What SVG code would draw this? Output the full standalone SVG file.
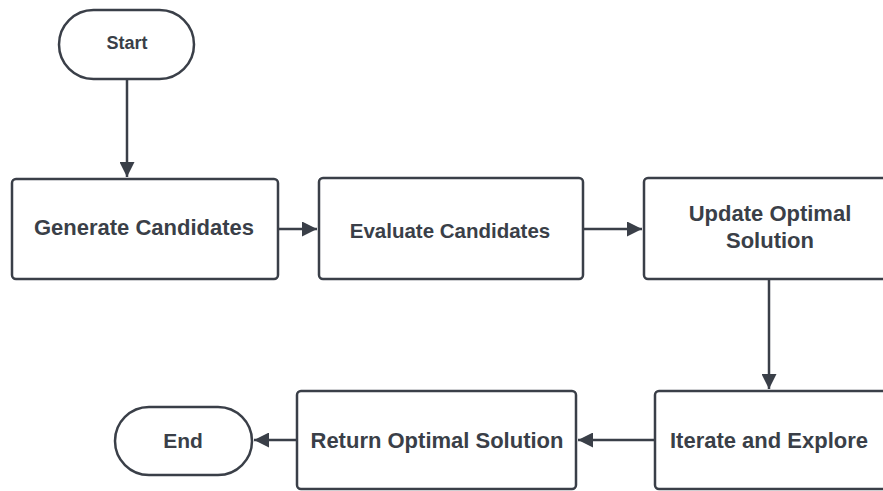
<svg xmlns="http://www.w3.org/2000/svg" width="883" height="491" viewBox="0 0 883 491">
<style>
.box{fill:#fff;stroke:#3a3f48;stroke-width:2.5}
.t{font-family:"Liberation Sans",Arial,sans-serif;font-weight:bold;fill:#3a3f48;text-anchor:middle;dominant-baseline:central}
.c{fill:none;stroke:#3a3f48;stroke-width:2.5}
</style>
<defs>
<marker id="ah" viewBox="0 0 10 10" refX="10" refY="5" markerWidth="6" markerHeight="6" markerUnits="strokeWidth" orient="auto">
<path d="M0,0 L10,5 L0,10 z" fill="#3a3f48"/>
</marker>
</defs>
<rect width="883" height="491" fill="#fff"/>
<g id="connectors">
<line class="c" x1="127" y1="79" x2="127" y2="177" marker-end="url(#ah)"/>
<line class="c" x1="278" y1="229" x2="317" y2="229" marker-end="url(#ah)"/>
<line class="c" x1="583" y1="229" x2="642" y2="229" marker-end="url(#ah)"/>
<line class="c" x1="769" y1="279" x2="769" y2="389" marker-end="url(#ah)"/>
<line class="c" x1="655" y1="440" x2="578" y2="440" marker-end="url(#ah)"/>
<line class="c" x1="297" y1="440" x2="254" y2="440" marker-end="url(#ah)"/>
</g>
<g id="start">
<rect class="box" x="59" y="10" width="135" height="69" rx="34.5"/>
<text class="t" x="127" y="43" font-size="18">Start</text>
</g>
<g id="generate">
<rect class="box" x="12" y="179" width="266" height="100" rx="4"/>
<text class="t" x="144" y="227" font-size="22">Generate Candidates</text>
</g>
<g id="evaluate">
<rect class="box" x="319" y="178" width="264" height="101" rx="4"/>
<text class="t" x="450" y="230" font-size="20.5">Evaluate Candidates</text>
</g>
<g id="update">
<rect class="box" x="644" y="178" width="252" height="101" rx="4"/>
<text class="t" x="770" y="213" font-size="22">Update Optimal</text>
<text class="t" x="770" y="240" font-size="22">Solution</text>
</g>
<g id="iterate">
<rect class="box" x="655" y="391" width="240" height="98" rx="4"/>
<text class="t" x="769" y="440" font-size="22">Iterate and Explore</text>
</g>
<g id="return">
<rect class="box" x="297" y="391" width="279" height="98" rx="4"/>
<text class="t" x="437" y="440" font-size="22">Return Optimal Solution</text>
</g>
<g id="end">
<rect class="box" x="115" y="407" width="137" height="68" rx="34"/>
<text class="t" x="183" y="440" font-size="21">End</text>
</g>
</svg>
